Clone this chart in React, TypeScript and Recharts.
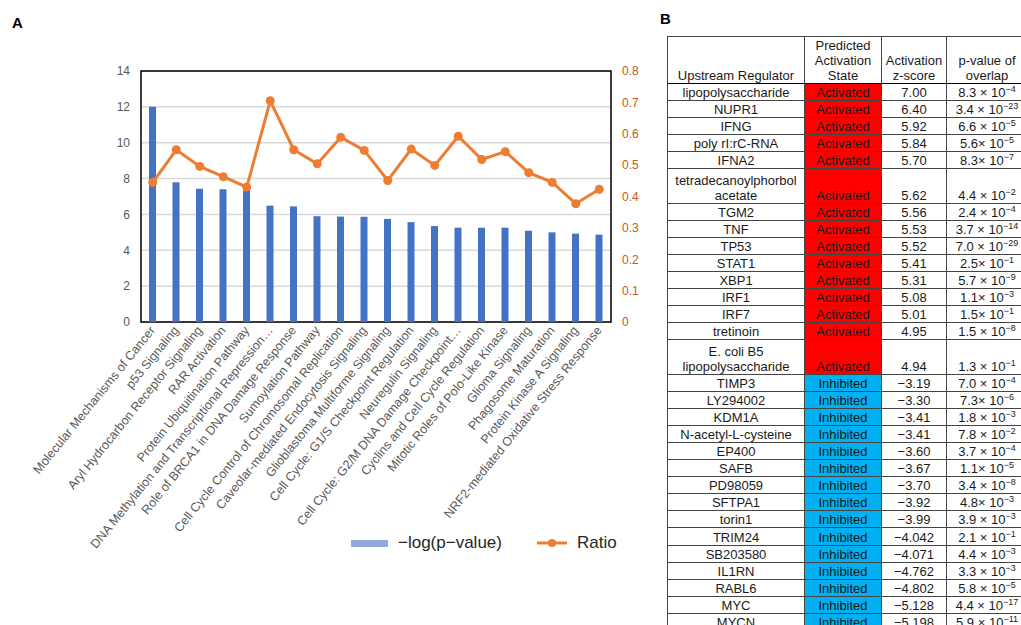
import { ComposedChart, Bar, Line, XAxis, YAxis, CartesianGrid, Legend, ReferenceArea } from 'recharts'

const pathways = [
  'Molecular Mechanisms of Cancer',
  'p53 Signaling',
  'Aryl Hydrocarbon Receptor Signaling',
  'RAR Activation',
  'Protein Ubiquitination Pathway',
  'DNA Methylation and Transcriptional Repression…',
  'Role of BRCA1 in DNA Damage Response',
  'Sumoylation Pathway',
  'Cell Cycle Control of Chromosomal Replication',
  'Caveolar-mediated Endocytosis Signaling',
  'Glioblastoma Multiforme Signaling',
  'Cell Cycle: G1/S Checkpoint Regulation',
  'Neuregulin Signaling',
  'Cell Cycle: G2/M DNA Damage Checkpoint…',
  'Cyclins and Cell Cycle Regulation',
  'Mitotic Roles of Polo-Like Kinase',
  'Glioma Signaling',
  'Phagosome Maturation',
  'Protein Kinase A Signaling',
  'NRF2-mediated Oxidative Stress Response',
]
const negLogP = [12.0, 7.8, 7.43, 7.4, 7.34, 6.49, 6.45, 5.9, 5.88, 5.87, 5.75, 5.57, 5.35, 5.26, 5.26, 5.26, 5.09, 5.0, 4.93, 4.87]
const ratio = [0.445, 0.549, 0.496, 0.463, 0.43, 0.705, 0.549, 0.504, 0.589, 0.547, 0.451, 0.551, 0.499, 0.592, 0.518, 0.543, 0.476, 0.445, 0.377, 0.423]
const leftTicks = [0, 2, 4, 6, 8, 10, 12, 14]
const rightTicks = [0, 0.1, 0.2, 0.3, 0.4, 0.5, 0.6, 0.7, 0.8]

const regulators = [
  'lipopolysaccharide', 'NUPR1', 'IFNG', 'poly rI:rC-RNA', 'IFNA2', 'tetradecanoylphorbol\nacetate',
  'TGM2', 'TNF', 'TP53', 'STAT1', 'XBP1', 'IRF1', 'IRF7', 'tretinoin', 'E. coli B5\nlipopolysaccharide',
  'TIMP3', 'LY294002', 'KDM1A', 'N-acetyl-L-cysteine', 'EP400', 'SAFB', 'PD98059', 'SFTPA1', 'torin1',
  'TRIM24', 'SB203580', 'IL1RN', 'RABL6', 'MYC', 'MYCN',
]
const states = [
  ...Array(15).fill('Activated'),
  ...Array(15).fill('Inhibited'),
]
const zScores = [
  '7.00', '6.40', '5.92', '5.84', '5.70', '5.62', '5.56', '5.53', '5.52', '5.41', '5.31', '5.08', '5.01', '4.95', '4.94',
  '−3.19', '−3.30', '−3.41', '−3.41', '−3.60', '−3.67', '−3.70', '−3.92', '−3.99', '−4.042', '−4.071', '−4.762', '−4.802', '−5.128', '−5.198',
]
const pValues = [
  '8.3 × 10^−4', '3.4 × 10^−23', '6.6 × 10^−5', '5.6× 10^−5', '8.3× 10^−7', '4.4 × 10^−2', '2.4 × 10^−4', '3.7 × 10^−14',
  '7.0 × 10^−29', '2.5× 10^−1', '5.7 × 10^−9', '1.1× 10^−3', '1.5× 10^−1', '1.5 × 10^−8', '1.3 × 10^−1',
  '7.0 × 10^−4', '7.3× 10^−6', '1.8 × 10^−3', '7.8 × 10^−2', '3.7 × 10^−4', '1.1× 10^−5', '3.4 × 10^−8', '4.8× 10^−3',
  '3.9 × 10^−3', '2.1 × 10^−1', '4.4 × 10^−3', '3.3 × 10^−3', '5.8 × 10^−5', '4.4 × 10^−17', '5.9 × 10^−11',
]

const data = pathways.map((name, i) => ({ name, negLogP: negLogP[i], ratio: ratio[i] }))

const FONT = '"Liberation Sans", Arial, sans-serif'

function CatTick({ x, y, payload }: any) {
  return (
    <text x={x} y={y} transform={`rotate(-51 ${x} ${y})`} textAnchor="end" dy={4}
      fontSize={12.5} fill="#595959" fontFamily={FONT}>
      {payload.value}
    </text>
  )
}

function LegendBox() {
  return (
    <div style={{ display: 'flex', alignItems: 'center', fontSize: 17, color: '#262626', fontFamily: FONT }}>
      <span style={{ width: 37, height: 7, background: '#8faadc', display: 'inline-block' }} />
      <span style={{ marginLeft: 10 }}>−log(p−value)</span>
      <svg width={30} height={10} style={{ marginLeft: 35 }}>
        <line x1={0} y1={5} x2={30} y2={5} stroke="#ed7d31" strokeWidth={3} />
        <circle cx={15} cy={5} r={4} fill="#ed7d31" />
      </svg>
      <span style={{ marginLeft: 10 }}>Ratio</span>
    </div>
  )
}

function PCell({ text }: { text: string }) {
  const [base, exp] = text.split('^')
  return (
    <>
      {base}
      <sup style={{ fontSize: 9, lineHeight: 0 }}>{exp}</sup>
    </>
  )
}

const cellBase: React.CSSProperties = {
  border: '1px solid #444',
  padding: 0,
  textAlign: 'center',
  verticalAlign: 'bottom',
  lineHeight: '15px',
}

export default function App() {
  return (
    <div style={{ position: 'absolute', left: 0, top: 0, width: 1021, height: 625, overflow: 'hidden', background: '#fff', fontFamily: FONT }}>
      <div style={{ position: 'absolute', left: 12, top: 14, fontSize: 15, fontWeight: 'bold' }}>A</div>
      <div style={{ position: 'absolute', left: 660, top: 10, fontSize: 15, fontWeight: 'bold' }}>B</div>

      <div style={{ position: 'absolute', left: 0, top: 0 }}>
        <ComposedChart width={660} height={625} data={data} margin={{ top: 71, right: 9, bottom: 0, left: 0 }}>
          <CartesianGrid yAxisId="left" vertical={false} stroke="#d9d9d9" strokeWidth={1.5} />
          <XAxis dataKey="name" interval={0} height={303} tick={<CatTick />} tickSize={0} tickMargin={6} axisLine={false} tickLine={false} />
          <YAxis yAxisId="left" domain={[0, 14]} ticks={leftTicks} width={141} axisLine={false} tickLine={false}
            tickMargin={5} tick={{ fill: '#595959', fontSize: 12, fontFamily: FONT }} />
          <YAxis yAxisId="right" orientation="right" domain={[0, 0.8]} ticks={rightTicks} width={40} axisLine={false} tickLine={false}
            tickMargin={5} tick={{ fill: '#c55a11', fontSize: 12, fontFamily: FONT }} />
          <Bar yAxisId="left" dataKey="negLogP" name="−log(p−value)" fill="#4472c4" barSize={7} isAnimationActive={false} />
          <Line yAxisId="right" dataKey="ratio" name="Ratio" stroke="#ed7d31" strokeWidth={3}
            dot={{ r: 4.5, fill: '#ed7d31', stroke: 'none' }} isAnimationActive={false} />
          <ReferenceArea yAxisId="left" y1={0} y2={14} fill="none" stroke="#000" strokeWidth={1.5} />
          <Legend layout="horizontal" verticalAlign="middle" align="center"
            wrapperStyle={{ left: 351, top: 533, width: 320, height: 24 }} content={() => <LegendBox />} />
        </ComposedChart>
      </div>

      <table style={{ position: 'absolute', left: 667, top: 36, borderCollapse: 'collapse', tableLayout: 'fixed', width: 360, fontSize: 13, color: '#1a1a1a' }}>
        <colgroup>
          <col style={{ width: 137 }} />
          <col style={{ width: 77 }} />
          <col style={{ width: 65 }} />
          <col style={{ width: 81 }} />
        </colgroup>
        <thead>
          <tr style={{ height: 47 }}>
            <th style={{ ...cellBase, fontWeight: 'normal', borderBottom: '1px solid #000' }}>Upstream Regulator</th>
            <th style={{ ...cellBase, fontWeight: 'normal', borderBottom: '1px solid #000' }}>Predicted<br />Activation<br />State</th>
            <th style={{ ...cellBase, fontWeight: 'normal', borderBottom: '1px solid #000' }}>Activation<br />z-score</th>
            <th style={{ ...cellBase, fontWeight: 'normal', borderBottom: '1px solid #000' }}>p-value of<br />overlap</th>
          </tr>
        </thead>
        <tbody>
          {regulators.map((r, i) => {
            const lines = r.split('\n')
            const tall = lines.length > 1
            return (
              <tr key={i} style={{ height: tall ? 34.2 : 17.1 }}>
                <td style={cellBase}>
                  {lines.map((l, j) => (<span key={j}>{j > 0 && <br />}{l}</span>))}
                </td>
                <td style={{ ...cellBase, background: states[i] === 'Activated' ? '#ff0000' : '#00b0f0' }}>{states[i]}</td>
                <td style={cellBase}>{zScores[i]}</td>
                <td style={cellBase}><PCell text={pValues[i]} /></td>
              </tr>
            )
          })}
        </tbody>
      </table>
    </div>
  )
}
